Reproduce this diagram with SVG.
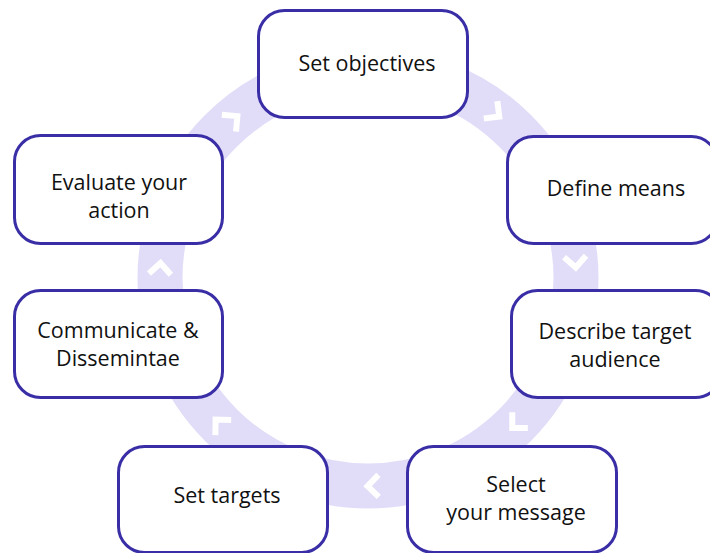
<svg xmlns="http://www.w3.org/2000/svg" width="710" height="553" viewBox="0 0 710 553">
<style>
.box{fill:#fff;stroke:#3a2ea6;stroke-width:3}
.lbl{font-family:"Open Sans","Noto Sans",sans-serif;font-size:21.5px;fill:#111;text-anchor:middle}
.chev{fill:none;stroke:#fff;stroke-width:6;stroke-linejoin:miter}
</style>
<defs>
<path id="chev" class="chev" d="M-11,7 L0,-4 L11,7"/>
</defs>
<rect width="710" height="553" fill="#fff"/>
<g id="connectors">
<circle cx="368" cy="278" r="208" fill="none" stroke="#e1ddf8" stroke-width="45"/>
<use href="#chev" transform="translate(160.3,267.1) rotate(3)"/>
<use href="#chev" transform="translate(234.3,118.7) rotate(50)"/>
<use href="#chev" transform="translate(496.1,114.1) rotate(128)"/>
<use href="#chev" transform="translate(575.5,263.5) rotate(176)"/>
<use href="#chev" transform="translate(515.1,425.1) rotate(-135)"/>
<use href="#chev" transform="translate(371.6,486.0) rotate(-91)"/>
<use href="#chev" transform="translate(218.4,422.5) rotate(-44)"/>
</g>
<g id="set-objectives">
<rect class="box" x="258.5" y="10.5" width="209" height="107" rx="26"/>
<text class="lbl" x="367" y="71">Set objectives</text>
</g>
<g id="define-means">
<rect class="box" x="507.5" y="136.5" width="210" height="107" rx="26"/>
<text class="lbl" x="616" y="196">Define means</text>
</g>
<g id="describe-target-audience">
<rect class="box" x="511.5" y="290.5" width="210" height="107" rx="26"/>
<text class="lbl" x="615" y="339">Describe target</text>
<text class="lbl" x="615" y="367">audience</text>
</g>
<g id="select-your-message">
<rect class="box" x="407.5" y="446.5" width="209" height="106" rx="26"/>
<text class="lbl" x="516" y="492">Select</text>
<text class="lbl" x="516" y="520">your message</text>
</g>
<g id="set-targets">
<rect class="box" x="118.5" y="446.5" width="209" height="106" rx="26"/>
<text class="lbl" x="227" y="503">Set targets</text>
</g>
<g id="communicate-disseminate">
<rect class="box" x="14.5" y="290.5" width="208" height="107" rx="26"/>
<text class="lbl" x="118" y="338">Communicate &amp;</text>
<text class="lbl" x="118" y="366">Dissemintae</text>
</g>
<g id="evaluate-your-action">
<rect class="box" x="14.5" y="135.5" width="208" height="108" rx="26"/>
<text class="lbl" x="119" y="190">Evaluate your</text>
<text class="lbl" x="119" y="218">action</text>
</g>
</svg>
